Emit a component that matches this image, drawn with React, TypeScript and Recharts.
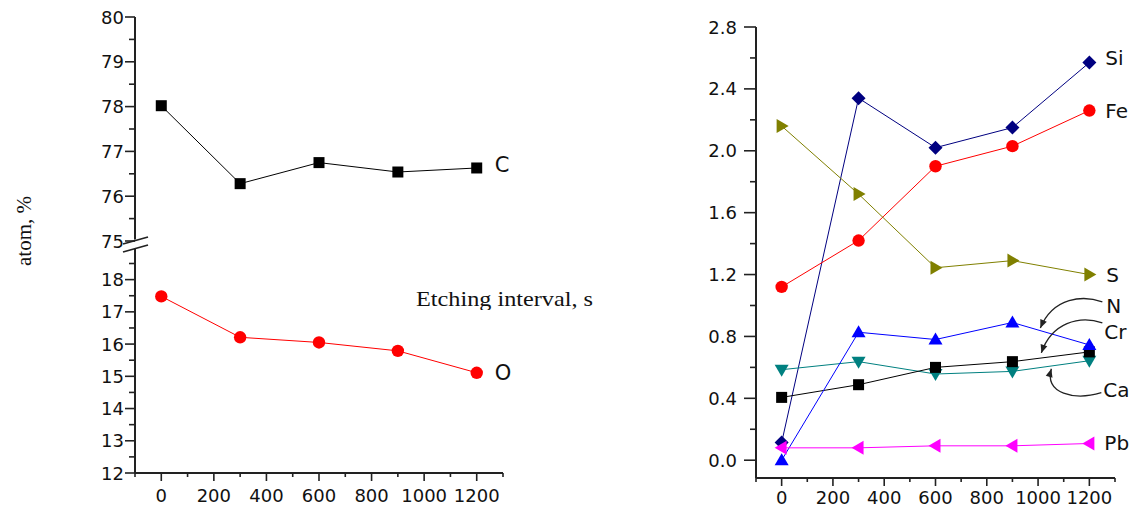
import React from "react";
import { LineChart, Line, XAxis, YAxis, LabelList, ReferenceDot } from "recharts";

// etching time, s
const times = [0, 300, 600, 900, 1200];

// left panel, atom %
const carbon = [78.02, 76.28, 76.75, 76.54, 76.63];
const oxygen = [17.48, 16.21, 16.05, 15.79, 15.11];

// right panel, atom %
const silicon = [0.114, 2.34, 2.02, 2.15, 2.57];
const iron = [1.12, 1.42, 1.9, 2.03, 2.26];
const sulfur = [2.16, 1.72, 1.244, 1.29, 1.2];
const nitrogen = [0.0, 0.827, 0.78, 0.89, 0.745];
const chromium = [0.406, 0.488, 0.6, 0.637, 0.7];
const calcium = [0.585, 0.637, 0.557, 0.574, 0.643];
const lead = [0.08, 0.08, 0.093, 0.093, 0.108];

const xTicks = [-100, 0, 100, 200, 300, 400, 500, 600, 700, 800, 900, 1000, 1100, 1200, 1300];
const topTicks = [75, 75.5, 76, 76.5, 77, 77.5, 78, 78.5, 79, 79.5, 80];
const bottomTicks = [12, 12.5, 13, 13.5, 14, 14.5, 15, 15.5, 16, 16.5, 17, 17.5, 18, 18.5];
const rightTicks = [0, 0.2, 0.4, 0.6, 0.8, 1.0, 1.2, 1.4, 1.6, 1.8, 2.0, 2.2, 2.4, 2.6, 2.8];

const leftRows = times.map((t, i) => ({ t, C: carbon[i], O: oxygen[i] }));
const rightRows = times.map((t, i) => ({
  t, Si: silicon[i], Fe: iron[i], S: sulfur[i], N: nitrogen[i],
  Cr: chromium[i], Ca: calcium[i], Pb: lead[i],
}));

const axisColor = "#222";
const sans = "'DejaVu Sans', sans-serif";
const serif = "'Liberation Serif', 'Times New Roman', serif";
const tickFontSize = 18;

type Shape = "square" | "circle" | "diamond" | "up" | "down" | "left" | "right";

function Marker({ cx, cy, shape, color }: { cx: number; cy: number; shape: Shape; color: string }) {
  if (cx == null || cy == null) return null;
  const h = 6;
  const pts = (p: number[][]) => p.map((q) => q.join(",")).join(" ");
  switch (shape) {
    case "square":
      return <rect x={cx - 5.5} y={cy - 5.5} width={11} height={11} fill={color} />;
    case "circle":
      return <circle cx={cx} cy={cy} r={6.2} fill={color} />;
    case "diamond":
      return <polygon points={pts([[cx, cy - 7], [cx + 7, cy], [cx, cy + 7], [cx - 7, cy]])} fill={color} />;
    case "up":
      return <polygon points={pts([[cx, cy - h - 1], [cx + h + 1, cy + h - 1], [cx - h - 1, cy + h - 1]])} fill={color} />;
    case "down":
      return <polygon points={pts([[cx, cy + h + 1], [cx + h + 1, cy - h + 1], [cx - h - 1, cy - h + 1]])} fill={color} />;
    case "left":
      return <polygon points={pts([[cx - h - 1, cy], [cx + h - 1, cy - h - 1], [cx + h - 1, cy + h + 1]])} fill={color} />;
    case "right":
      return <polygon points={pts([[cx + h + 1, cy], [cx - h + 1, cy - h - 1], [cx - h + 1, cy + h + 1]])} fill={color} />;
  }
  return null;
}

function makeYTick(isMajor: (v: number) => boolean, fmt: (v: number) => string, majorLen: number, gap: number) {
  return (props: any) => {
    const { x, y, payload } = props;
    const v = payload.value as number;
    const major = isMajor(v);
    return (
      <g>
        <line x1={x} x2={x - (major ? majorLen : 6)} y1={y} y2={y} stroke={axisColor} strokeWidth={1.6} />
        {major && (
          <text x={x - gap} y={y} textAnchor="end" dominantBaseline="central"
            fontSize={tickFontSize} fontFamily={sans} fill="#111">{fmt(v)}</text>
        )}
      </g>
    );
  };
}

function makeXTick(labelOffset: number) {
  return (props: any) => {
    const { x, y, payload } = props;
    const v = payload.value as number;
    const major = v >= 0 && v <= 1200 && v % 200 === 0;
    return (
      <g>
        <line x1={x} x2={x} y1={y} y2={y + (major ? 8 : 4)} stroke={axisColor} strokeWidth={1.6} />
        {major && (
          <text x={x} y={y + labelOffset} textAnchor="middle" dominantBaseline="central"
            fontSize={tickFontSize} fontFamily={sans} fill="#111">{v}</text>
        )}
      </g>
    );
  };
}

// curved pointer from a label to its line, offsets relative to label anchor
function Pointer({ x, y, d }: { x: number; y: number; d: number[] }) {
  const [mx, my, c1x, c1y, c2x, c2y, tx, ty] = d;
  const ang = Math.atan2(ty - c2y, tx - c2x);
  const len = 9;
  const a1 = ang + Math.PI - 0.4;
  const a2 = ang + Math.PI + 0.4;
  const X = x + tx, Y = y + ty;
  return (
    <g>
      <path d={`M${x + mx},${y + my} C${x + c1x},${y + c1y} ${x + c2x},${y + c2y} ${X},${Y}`}
        fill="none" stroke="#222" strokeWidth={1.3} />
      <polygon
        points={`${X},${Y} ${X + len * Math.cos(a1)},${Y + len * Math.sin(a1)} ${X + len * Math.cos(a2)},${Y + len * Math.sin(a2)}`}
        fill="#222" />
    </g>
  );
}

interface SeriesCfg {
  key: string;
  color: string;
  shape: Shape;
  dx: number;
  dy: number;
  pointer?: number[];
}

function seriesLabel(cfg: SeriesCfg, fontSize: number) {
  return (p: any) => {
    if (p.index !== times.length - 1) return null;
    const px = p.x ?? p.viewBox?.x;
    const py = p.y ?? p.viewBox?.y;
    if (px == null || py == null) return null;
    const lx = px + cfg.dx;
    const ly = py + cfg.dy;
    return (
      <g>
        {cfg.pointer && <Pointer x={lx} y={ly} d={cfg.pointer} />}
        <text x={lx} y={ly} dominantBaseline="central" fontSize={fontSize} fontFamily={sans} fill="#111">
          {cfg.key}
        </text>
      </g>
    );
  };
}

const leftSeries: SeriesCfg[] = [
  { key: "C", color: "#000000", shape: "square", dx: 18, dy: -3 },
  { key: "O", color: "#ff0000", shape: "circle", dx: 18, dy: 0 },
];

const rightSeries: SeriesCfg[] = [
  { key: "Si", color: "#000080", shape: "diamond", dx: 16, dy: -5 },
  { key: "Fe", color: "#ff0000", shape: "circle", dx: 16, dy: 0 },
  { key: "S", color: "#808000", shape: "right", dx: 17, dy: 0 },
  { key: "Ca", color: "#008080", shape: "down", dx: 14, dy: 29, pointer: [-2, 3, -29, 11, -59, 4, -52, -21] },
  { key: "Cr", color: "#000000", shape: "square", dx: 15, dy: -20, pointer: [-2, -9, -25, -17, -53, -9, -63, 21] },
  { key: "N", color: "#0000ff", shape: "up", dx: 17, dy: -39, pointer: [-4, -4, -23, -11, -53, -9, -66, 22] },
  { key: "Pb", color: "#ff00ff", shape: "left", dx: 15, dy: 0 },
];

function renderLine(cfg: SeriesCfg, fontSize: number) {
  return (
    <Line
      key={cfg.key}
      type="linear"
      dataKey={cfg.key}
      stroke={cfg.color}
      strokeWidth={1}
      isAnimationActive={false}
      activeDot={false}
      dot={(p: any) => (
        <Marker key={`${cfg.key}-${p.index}`} cx={p.cx} cy={p.cy} shape={cfg.shape} color={cfg.color} />
      )}
    >
      <LabelList dataKey={cfg.key} content={seriesLabel(cfg, fontSize)} />
    </Line>
  );
}

function BreakMark(props: any) {
  const { cx, cy } = props;
  if (cx == null || cy == null) return null;
  return (
    <g>
      <polygon points={`${cx - 3},${cy - 1} ${cx + 3},${cy - 2} ${cx + 3},${cy + 9} ${cx - 3},${cy + 10}`} fill="#fff" />
      <line x1={cx - 12} y1={cy + 3} x2={cx + 13} y2={cy - 4} stroke={axisColor} strokeWidth={1.8} />
      <line x1={cx - 12} y1={cy + 11} x2={cx + 13} y2={cy + 4} stroke={axisColor} strokeWidth={1.8} />
    </g>
  );
}

const isInt = (v: number) => Math.abs(v - Math.round(v)) < 1e-6;
const isQuad = (v: number) => Math.abs(v * 10 - Math.round(v * 10)) < 1e-6 && Math.round(v * 10) % 4 === 0;

export default function App() {
  return (
    <div style={{ position: "absolute", left: 0, top: 0, width: 1144, height: 509, background: "#fff", overflow: "hidden" }}>
      {/* left panel, upper part (C) */}
      <div style={{ position: "absolute", left: 0, top: 0 }}>
        <LineChart width={560} height={256} data={leftRows} margin={{ top: 17, right: 57, bottom: 15, left: 85 }}>
          <XAxis type="number" dataKey="t" domain={[-100, 1300]} ticks={xTicks} hide />
          <YAxis type="number" domain={[75, 80]} ticks={topTicks} interval={0} width={50}
            tickSize={0} tickMargin={0} tickLine={false}
            axisLine={{ stroke: axisColor, strokeWidth: 2 }}
            tick={makeYTick(isInt, (v) => String(v), 10, 11)} />
          {renderLine(leftSeries[0], 21)}
          <ReferenceDot x={-100} y={75} r={0} ifOverflow="visible" shape={BreakMark} />
        </LineChart>
      </div>

      {/* left panel, lower part (O) */}
      <div style={{ position: "absolute", left: 0, top: 240 }}>
        <LineChart width={560} height={269} data={leftRows} margin={{ top: 9, right: 57, bottom: 0, left: 85 }}>
          <XAxis type="number" dataKey="t" domain={[-100, 1300]} ticks={xTicks} interval={0} height={36}
            tickSize={0} tickMargin={0} tickLine={false}
            axisLine={{ stroke: axisColor, strokeWidth: 2 }}
            tick={makeXTick(22)} />
          <YAxis type="number" domain={[12, 18.95]} ticks={bottomTicks} interval={0} width={50}
            tickSize={0} tickMargin={0} tickLine={false}
            axisLine={{ stroke: axisColor, strokeWidth: 2 }}
            tick={makeYTick(isInt, (v) => String(v), 10, 11)} />
          {renderLine(leftSeries[1], 21)}
        </LineChart>
      </div>

      {/* right panel */}
      <div style={{ position: "absolute", left: 560, top: 0 }}>
        <LineChart width={584} height={509} data={rightRows} margin={{ top: 27, right: 29, bottom: 0, left: 146 }}>
          <XAxis type="number" dataKey="t" domain={[-100, 1300]} ticks={xTicks} interval={0} height={31}
            tickSize={0} tickMargin={0} tickLine={false}
            axisLine={{ stroke: axisColor, strokeWidth: 2 }}
            tick={makeXTick(19)} />
          <YAxis type="number" domain={[-0.115, 2.8]} ticks={rightTicks} interval={0} width={50}
            tickSize={0} tickMargin={0} tickLine={false}
            axisLine={{ stroke: axisColor, strokeWidth: 2 }}
            tick={makeYTick(isQuad, (v) => v.toFixed(1), 12, 19)} />
          {rightSeries.map((s) => renderLine(s, 20))}
        </LineChart>
      </div>

      {/* axis captions */}
      <svg width={1144} height={509} style={{ position: "absolute", left: 0, top: 0, pointerEvents: "none" }}>
        <defs>
          <clipPath id="etchClip">
            <rect x={380} y={280} width={260} height={30} />
          </clipPath>
        </defs>
        <text x={0} y={0} transform="translate(24,231) rotate(-90)" textAnchor="middle" dominantBaseline="central"
          fontSize={21} fontFamily={serif} fill="#111">atom, %</text>
        <text x={416} y={306} fontSize={21} textLength={177} lengthAdjust="spacingAndGlyphs"
          fontFamily={serif} fill="#111" clipPath="url(#etchClip)">
          Etching interval, s
        </text>
      </svg>
    </div>
  );
}
